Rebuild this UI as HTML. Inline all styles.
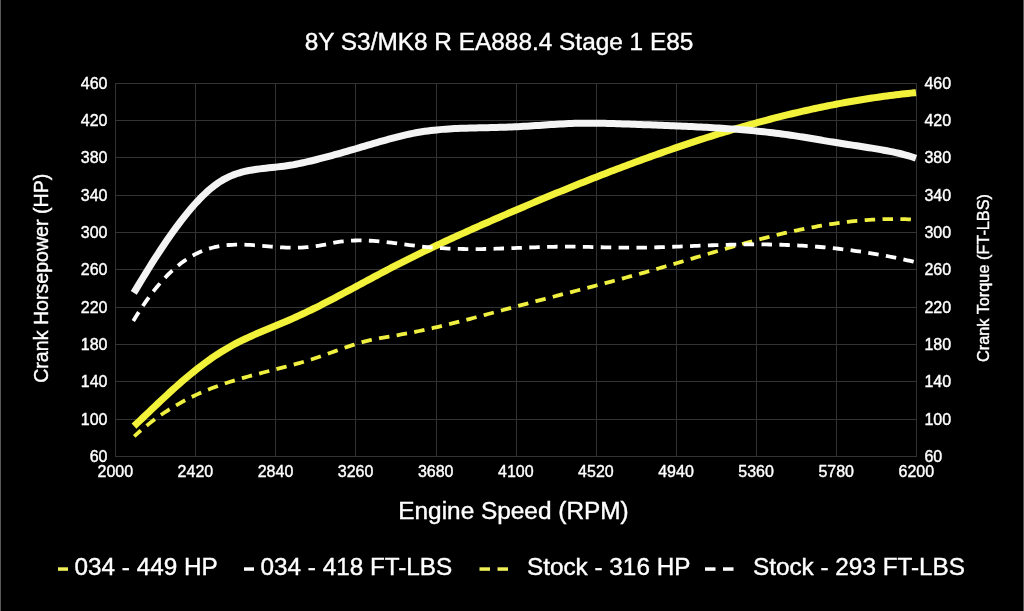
<!DOCTYPE html>
<html><head><meta charset="utf-8"><style>
html,body{margin:0;padding:0;background:#000;}
body{width:1024px;height:611px;overflow:hidden;}
svg{display:block;font-family:"Liberation Sans",sans-serif;will-change:transform;}
text{stroke:#fff;stroke-width:0.4px;}
</style></head><body>
<svg width="1024" height="611" viewBox="0 0 1024 611">
<rect width="1024" height="611" fill="#000"/>
<rect x="0" y="0" width="1" height="611" fill="#5a5a5a"/><rect x="1023" y="0" width="1" height="611" fill="#555"/>
<g stroke="#333333" stroke-width="1" shape-rendering="crispEdges"><line x1="115.50" y1="83" x2="115.50" y2="457"/><line x1="195.50" y1="83" x2="195.50" y2="457"/><line x1="275.50" y1="83" x2="275.50" y2="457"/><line x1="355.50" y1="83" x2="355.50" y2="457"/><line x1="436.50" y1="83" x2="436.50" y2="457"/><line x1="516.50" y1="83" x2="516.50" y2="457"/><line x1="596.50" y1="83" x2="596.50" y2="457"/><line x1="676.50" y1="83" x2="676.50" y2="457"/><line x1="756.50" y1="83" x2="756.50" y2="457"/><line x1="836.50" y1="83" x2="836.50" y2="457"/><line x1="916.50" y1="83" x2="916.50" y2="457"/><line x1="115" y1="83.50" x2="917" y2="83.50"/><line x1="115" y1="120.50" x2="917" y2="120.50"/><line x1="115" y1="157.50" x2="917" y2="157.50"/><line x1="115" y1="195.50" x2="917" y2="195.50"/><line x1="115" y1="232.50" x2="917" y2="232.50"/><line x1="115" y1="269.50" x2="917" y2="269.50"/><line x1="115" y1="307.50" x2="917" y2="307.50"/><line x1="115" y1="344.50" x2="917" y2="344.50"/><line x1="115" y1="381.50" x2="917" y2="381.50"/><line x1="115" y1="419.50" x2="917" y2="419.50"/><line x1="115" y1="456.50" x2="917" y2="456.50"/></g>
<text x="499" y="49.5" fill="#fff" font-size="24.4" text-anchor="middle">8Y S3/MK8 R EA888.4 Stage 1 E85</text>
<g fill="#fff" font-size="16"><text x="107.5" y="88.6" text-anchor="end">460</text><text x="924.4" y="88.6">460</text><text x="107.5" y="126.0" text-anchor="end">420</text><text x="924.4" y="126.0">420</text><text x="107.5" y="163.3" text-anchor="end">380</text><text x="924.4" y="163.3">380</text><text x="107.5" y="200.7" text-anchor="end">340</text><text x="924.4" y="200.7">340</text><text x="107.5" y="238.0" text-anchor="end">300</text><text x="924.4" y="238.0">300</text><text x="107.5" y="275.4" text-anchor="end">260</text><text x="924.4" y="275.4">260</text><text x="107.5" y="312.7" text-anchor="end">220</text><text x="924.4" y="312.7">220</text><text x="107.5" y="350.1" text-anchor="end">180</text><text x="924.4" y="350.1">180</text><text x="107.5" y="387.4" text-anchor="end">140</text><text x="924.4" y="387.4">140</text><text x="107.5" y="424.8" text-anchor="end">100</text><text x="924.4" y="424.8">100</text><text x="107.5" y="462.1" text-anchor="end">60</text><text x="924.4" y="462.1">60</text><text x="115.3" y="477.3" text-anchor="middle">2000</text><text x="195.4" y="477.3" text-anchor="middle">2420</text><text x="275.5" y="477.3" text-anchor="middle">2840</text><text x="355.6" y="477.3" text-anchor="middle">3260</text><text x="435.7" y="477.3" text-anchor="middle">3680</text><text x="515.8" y="477.3" text-anchor="middle">4100</text><text x="595.9" y="477.3" text-anchor="middle">4520</text><text x="676.0" y="477.3" text-anchor="middle">4940</text><text x="756.1" y="477.3" text-anchor="middle">5360</text><text x="836.2" y="477.3" text-anchor="middle">5780</text><text x="916.3" y="477.3" text-anchor="middle">6200</text></g>
<text x="513.5" y="518.5" fill="#fff" font-size="24.4" text-anchor="middle">Engine Speed (RPM)</text>
<text transform="translate(47.7 278.3) rotate(-90)" fill="#fff" font-size="19.6" text-anchor="middle">Crank Horsepower (HP)</text>
<text transform="translate(989.3 278) rotate(-90)" fill="#fff" font-size="16.3" text-anchor="middle">Crank Torque (FT-LBS)</text>
<g fill="none" stroke-linejoin="round">
<path d="M134.00 426.10 L137.00 423.29 L140.00 420.46 L143.00 417.62 L146.00 414.77 L149.00 411.92 L152.00 409.07 L155.00 406.22 L158.00 403.38 L161.00 400.55 L164.00 397.74 L167.00 394.95 L170.00 392.18 L173.00 389.45 L176.00 386.75 L179.00 384.09 L182.00 381.47 L185.00 378.90 L188.00 376.37 L191.00 373.89 L194.00 371.46 L197.00 369.08 L200.00 366.75 L203.00 364.47 L206.00 362.25 L209.00 360.09 L212.00 357.98 L215.00 355.94 L218.00 353.96 L221.00 352.04 L224.00 350.19 L227.00 348.40 L230.00 346.68 L233.00 345.03 L236.00 343.43 L239.00 341.89 L242.00 340.41 L245.00 338.97 L248.00 337.57 L251.00 336.20 L254.00 334.87 L257.00 333.57 L260.00 332.29 L263.00 331.03 L266.00 329.78 L269.00 328.54 L272.00 327.30 L275.00 326.07 L278.00 324.83 L281.00 323.58 L284.00 322.32 L287.00 321.04 L290.00 319.74 L293.00 318.41 L296.00 317.06 L299.00 315.69 L302.00 314.29 L305.00 312.87 L308.00 311.43 L311.00 309.98 L314.00 308.50 L317.00 307.01 L320.00 305.51 L323.00 303.99 L326.00 302.46 L329.00 300.91 L332.00 299.35 L335.00 297.78 L338.00 296.21 L341.00 294.62 L344.00 293.03 L347.00 291.43 L350.00 289.83 L353.00 288.22 L356.00 286.61 L359.00 285.00 L362.00 283.38 L365.00 281.77 L368.00 280.16 L371.00 278.55 L374.00 276.94 L377.00 275.34 L380.00 273.75 L383.00 272.16 L386.00 270.57 L389.00 269.00 L392.00 267.43 L395.00 265.88 L398.00 264.34 L401.00 262.81 L404.00 261.29 L407.00 259.78 L410.00 258.28 L413.00 256.79 L416.00 255.31 L419.00 253.84 L422.00 252.39 L425.00 250.94 L428.00 249.49 L431.00 248.06 L434.00 246.64 L437.00 245.22 L440.00 243.82 L443.00 242.42 L446.00 241.02 L449.00 239.64 L452.00 238.26 L455.00 236.89 L458.00 235.53 L461.00 234.17 L464.00 232.82 L467.00 231.47 L470.00 230.13 L473.00 228.79 L476.00 227.46 L479.00 226.13 L482.00 224.81 L485.00 223.49 L488.00 222.18 L491.00 220.87 L494.00 219.56 L497.00 218.26 L500.00 216.96 L503.00 215.66 L506.00 214.37 L509.00 213.08 L512.00 211.79 L515.00 210.50 L518.00 209.22 L521.00 207.94 L524.00 206.66 L527.00 205.39 L530.00 204.12 L533.00 202.85 L536.00 201.59 L539.00 200.33 L542.00 199.08 L545.00 197.83 L548.00 196.58 L551.00 195.33 L554.00 194.09 L557.00 192.86 L560.00 191.62 L563.00 190.39 L566.00 189.17 L569.00 187.95 L572.00 186.74 L575.00 185.52 L578.00 184.32 L581.00 183.11 L584.00 181.92 L587.00 180.72 L590.00 179.53 L593.00 178.35 L596.00 177.17 L599.00 176.00 L602.00 174.83 L605.00 173.66 L608.00 172.50 L611.00 171.35 L614.00 170.20 L617.00 169.06 L620.00 167.92 L623.00 166.79 L626.00 165.66 L629.00 164.54 L632.00 163.42 L635.00 162.31 L638.00 161.20 L641.00 160.11 L644.00 159.01 L647.00 157.92 L650.00 156.84 L653.00 155.77 L656.00 154.70 L659.00 153.64 L662.00 152.58 L665.00 151.53 L668.00 150.48 L671.00 149.45 L674.00 148.42 L677.00 147.39 L680.00 146.37 L683.00 145.36 L686.00 144.36 L689.00 143.36 L692.00 142.37 L695.00 141.39 L698.00 140.41 L701.00 139.44 L704.00 138.48 L707.00 137.52 L710.00 136.57 L713.00 135.63 L716.00 134.70 L719.00 133.77 L722.00 132.86 L725.00 131.95 L728.00 131.04 L731.00 130.15 L734.00 129.26 L737.00 128.38 L740.00 127.51 L743.00 126.65 L746.00 125.79 L749.00 124.95 L752.00 124.11 L755.00 123.28 L758.00 122.45 L761.00 121.64 L764.00 120.84 L767.00 120.04 L770.00 119.25 L773.00 118.47 L776.00 117.70 L779.00 116.94 L782.00 116.19 L785.00 115.44 L788.00 114.71 L791.00 113.98 L794.00 113.26 L797.00 112.56 L800.00 111.86 L803.00 111.17 L806.00 110.49 L809.00 109.82 L812.00 109.16 L815.00 108.51 L818.00 107.87 L821.00 107.24 L824.00 106.61 L827.00 106.00 L830.00 105.40 L833.00 104.81 L836.00 104.23 L839.00 103.65 L842.00 103.09 L845.00 102.54 L848.00 102.00 L851.00 101.47 L854.00 100.95 L857.00 100.44 L860.00 99.94 L863.00 99.45 L866.00 98.97 L869.00 98.51 L872.00 98.05 L875.00 97.61 L878.00 97.17 L881.00 96.75 L884.00 96.34 L887.00 95.94 L890.00 95.55 L893.00 95.17 L896.00 94.80 L899.00 94.44 L902.00 94.10 L905.00 93.77 L908.00 93.45 L911.00 93.14 L914.00 92.84 L916.00 92.65" stroke="#f2f23a" stroke-width="7"/>
<path d="M133.80 292.92 L136.80 287.90 L139.80 282.91 L142.80 277.96 L145.80 273.07 L148.80 268.23 L151.80 263.45 L154.80 258.73 L157.80 254.08 L160.80 249.50 L163.80 245.01 L166.80 240.59 L169.80 236.26 L172.80 232.03 L175.80 227.89 L178.80 223.85 L181.80 219.91 L184.80 216.08 L187.80 212.37 L190.80 208.78 L193.80 205.32 L196.80 201.99 L199.80 198.81 L202.80 195.78 L205.80 192.90 L208.80 190.19 L211.80 187.66 L214.80 185.30 L217.80 183.13 L220.80 181.16 L223.80 179.38 L226.80 177.79 L229.80 176.37 L232.80 175.11 L235.80 173.99 L238.80 173.01 L241.80 172.16 L244.80 171.41 L247.80 170.75 L250.80 170.18 L253.80 169.68 L256.80 169.24 L259.80 168.85 L262.80 168.49 L265.80 168.15 L268.80 167.83 L271.80 167.52 L274.80 167.21 L277.80 166.88 L280.80 166.54 L283.80 166.17 L286.80 165.77 L289.80 165.33 L292.80 164.83 L295.80 164.28 L298.80 163.68 L301.80 163.04 L304.80 162.37 L307.80 161.68 L310.80 160.97 L313.80 160.24 L316.80 159.49 L319.80 158.73 L322.80 157.95 L325.80 157.16 L328.80 156.36 L331.80 155.55 L334.80 154.73 L337.80 153.89 L340.80 153.05 L343.80 152.20 L346.80 151.34 L349.80 150.48 L352.80 149.61 L355.80 148.74 L358.80 147.86 L361.80 146.98 L364.80 146.10 L367.80 145.22 L370.80 144.34 L373.80 143.46 L376.80 142.58 L379.80 141.71 L382.80 140.85 L385.80 140.01 L388.80 139.17 L391.80 138.36 L394.80 137.56 L397.80 136.79 L400.80 136.04 L403.80 135.33 L406.80 134.64 L409.80 133.99 L412.80 133.37 L415.80 132.80 L418.80 132.26 L421.80 131.77 L424.80 131.33 L427.80 130.92 L430.80 130.54 L433.80 130.20 L436.80 129.90 L439.80 129.62 L442.80 129.38 L445.80 129.15 L448.80 128.96 L451.80 128.78 L454.80 128.62 L457.80 128.49 L460.80 128.36 L463.80 128.25 L466.80 128.16 L469.80 128.07 L472.80 127.98 L475.80 127.91 L478.80 127.84 L481.80 127.77 L484.80 127.70 L487.80 127.64 L490.80 127.57 L493.80 127.50 L496.80 127.42 L499.80 127.34 L502.80 127.26 L505.80 127.16 L508.80 127.06 L511.80 126.94 L514.80 126.81 L517.80 126.66 L520.80 126.51 L523.80 126.34 L526.80 126.16 L529.80 125.98 L532.80 125.79 L535.80 125.59 L538.80 125.39 L541.80 125.19 L544.80 124.99 L547.80 124.79 L550.80 124.60 L553.80 124.41 L556.80 124.23 L559.80 124.05 L562.80 123.89 L565.80 123.74 L568.80 123.60 L571.80 123.48 L574.80 123.37 L577.80 123.29 L580.80 123.22 L583.80 123.17 L586.80 123.15 L589.80 123.14 L592.80 123.15 L595.80 123.18 L598.80 123.22 L601.80 123.27 L604.80 123.34 L607.80 123.41 L610.80 123.50 L613.80 123.59 L616.80 123.69 L619.80 123.79 L622.80 123.89 L625.80 124.00 L628.80 124.11 L631.80 124.22 L634.80 124.32 L637.80 124.43 L640.80 124.54 L643.80 124.64 L646.80 124.75 L649.80 124.86 L652.80 124.97 L655.80 125.08 L658.80 125.19 L661.80 125.30 L664.80 125.42 L667.80 125.54 L670.80 125.66 L673.80 125.78 L676.80 125.91 L679.80 126.03 L682.80 126.17 L685.80 126.30 L688.80 126.44 L691.80 126.58 L694.80 126.73 L697.80 126.88 L700.80 127.03 L703.80 127.19 L706.80 127.36 L709.80 127.53 L712.80 127.70 L715.80 127.88 L718.80 128.07 L721.80 128.26 L724.80 128.46 L727.80 128.66 L730.80 128.87 L733.80 129.09 L736.80 129.32 L739.80 129.55 L742.80 129.80 L745.80 130.05 L748.80 130.31 L751.80 130.58 L754.80 130.87 L757.80 131.16 L760.80 131.46 L763.80 131.78 L766.80 132.11 L769.80 132.45 L772.80 132.80 L775.80 133.17 L778.80 133.54 L781.80 133.94 L784.80 134.35 L787.80 134.77 L790.80 135.20 L793.80 135.66 L796.80 136.12 L799.80 136.59 L802.80 137.07 L805.80 137.56 L808.80 138.06 L811.80 138.56 L814.80 139.06 L817.80 139.57 L820.80 140.07 L823.80 140.58 L826.80 141.08 L829.80 141.58 L832.80 142.07 L835.80 142.55 L838.80 143.03 L841.80 143.50 L844.80 143.96 L847.80 144.42 L850.80 144.88 L853.80 145.34 L856.80 145.80 L859.80 146.26 L862.80 146.73 L865.80 147.19 L868.80 147.67 L871.80 148.15 L874.80 148.65 L877.80 149.15 L880.80 149.66 L883.80 150.19 L886.80 150.75 L889.80 151.32 L892.80 151.93 L895.80 152.58 L898.80 153.26 L901.80 153.99 L904.80 154.78 L907.80 155.62 L910.80 156.52 L913.80 157.49 L916.00 158.24" stroke="#f4f4f4" stroke-width="7"/>
<path d="M134.20 436.37 L137.20 433.66 L140.20 431.04 L143.20 428.49 L146.20 426.03 L149.20 423.63 L152.20 421.32 L155.20 419.07 L158.20 416.90 L161.20 414.80 L164.20 412.76 L167.20 410.79 L170.20 408.88 L173.20 407.04 L176.20 405.26 L179.20 403.54 L182.20 401.87 L185.20 400.26 L188.20 398.71 L191.20 397.21 L194.20 395.76 L197.20 394.36 L200.20 393.01 L203.20 391.70 L206.20 390.44 L209.20 389.22 L212.20 388.05 L215.20 386.91 L218.20 385.81 L221.20 384.75 L224.20 383.72 L227.20 382.73 L230.20 381.76 L233.20 380.82 L236.20 379.91 L239.20 379.02 L242.20 378.15 L245.20 377.31 L248.20 376.48 L251.20 375.66 L254.20 374.86 L257.20 374.08 L260.20 373.30 L263.20 372.52 L266.20 371.76 L269.20 370.99 L272.20 370.23 L275.20 369.47 L278.20 368.70 L281.20 367.93 L284.20 367.15 L287.20 366.36 L290.20 365.56 L293.20 364.75 L296.20 363.92 L299.20 363.08 L302.20 362.21 L305.20 361.32 L308.20 360.41 L311.20 359.48 L314.20 358.51 L317.20 357.52 L320.20 356.50 L323.20 355.45 L326.20 354.39 L329.20 353.31 L332.20 352.23 L335.20 351.14 L338.20 350.05 L341.20 348.98 L344.20 347.92 L347.20 346.88 L350.20 345.86 L353.20 344.87 L356.20 343.92 L359.20 343.01 L362.20 342.14 L365.20 341.33 L368.20 340.57 L371.20 339.87 L374.20 339.23 L377.20 338.63 L380.20 338.06 L383.20 337.53 L386.20 337.01 L389.20 336.51 L392.20 336.02 L395.20 335.52 L398.20 335.01 L401.20 334.49 L404.20 333.95 L407.20 333.39 L410.20 332.82 L413.20 332.23 L416.20 331.63 L419.20 331.01 L422.20 330.38 L425.20 329.73 L428.20 329.07 L431.20 328.40 L434.20 327.72 L437.20 327.03 L440.20 326.32 L443.20 325.61 L446.20 324.88 L449.20 324.15 L452.20 323.41 L455.20 322.66 L458.20 321.90 L461.20 321.14 L464.20 320.37 L467.20 319.59 L470.20 318.81 L473.20 318.02 L476.20 317.22 L479.20 316.43 L482.20 315.63 L485.20 314.82 L488.20 314.02 L491.20 313.21 L494.20 312.40 L497.20 311.59 L500.20 310.78 L503.20 309.97 L506.20 309.16 L509.20 308.35 L512.20 307.54 L515.20 306.74 L518.20 305.94 L521.20 305.14 L524.20 304.34 L527.20 303.54 L530.20 302.75 L533.20 301.96 L536.20 301.17 L539.20 300.39 L542.20 299.60 L545.20 298.82 L548.20 298.03 L551.20 297.25 L554.20 296.47 L557.20 295.69 L560.20 294.91 L563.20 294.13 L566.20 293.35 L569.20 292.57 L572.20 291.79 L575.20 291.01 L578.20 290.23 L581.20 289.45 L584.20 288.67 L587.20 287.89 L590.20 287.10 L593.20 286.32 L596.20 285.53 L599.20 284.74 L602.20 283.95 L605.20 283.15 L608.20 282.36 L611.20 281.56 L614.20 280.76 L617.20 279.95 L620.20 279.14 L623.20 278.33 L626.20 277.52 L629.20 276.70 L632.20 275.88 L635.20 275.06 L638.20 274.23 L641.20 273.39 L644.20 272.56 L647.20 271.71 L650.20 270.87 L653.20 270.01 L656.20 269.16 L659.20 268.29 L662.20 267.43 L665.20 266.55 L668.20 265.68 L671.20 264.80 L674.20 263.92 L677.20 263.03 L680.20 262.14 L683.20 261.25 L686.20 260.36 L689.20 259.47 L692.20 258.57 L695.20 257.68 L698.20 256.79 L701.20 255.90 L704.20 255.00 L707.20 254.12 L710.20 253.23 L713.20 252.34 L716.20 251.46 L719.20 250.58 L722.20 249.71 L725.20 248.84 L728.20 247.97 L731.20 247.11 L734.20 246.25 L737.20 245.40 L740.20 244.56 L743.20 243.72 L746.20 242.90 L749.20 242.07 L752.20 241.26 L755.20 240.46 L758.20 239.66 L761.20 238.87 L764.20 238.10 L767.20 237.33 L770.20 236.58 L773.20 235.83 L776.20 235.10 L779.20 234.38 L782.20 233.67 L785.20 232.97 L788.20 232.29 L791.20 231.62 L794.20 230.96 L797.20 230.32 L800.20 229.69 L803.20 229.07 L806.20 228.47 L809.20 227.89 L812.20 227.32 L815.20 226.76 L818.20 226.23 L821.20 225.71 L824.20 225.20 L827.20 224.71 L830.20 224.24 L833.20 223.79 L836.20 223.36 L839.20 222.94 L842.20 222.55 L845.20 222.17 L848.20 221.81 L851.20 221.47 L854.20 221.16 L857.20 220.86 L860.20 220.58 L863.20 220.33 L866.20 220.10 L869.20 219.89 L872.20 219.70 L875.20 219.53 L878.20 219.39 L881.20 219.27 L884.20 219.17 L887.20 219.10 L890.20 219.05 L893.20 219.03 L896.20 219.03 L899.20 219.06 L902.20 219.11 L905.20 219.19 L908.20 219.30 L911.20 219.43 L914.20 219.59 L916.00 219.70" stroke="#f0f040" stroke-width="3.8" stroke-dasharray="10.5 7.37" stroke-dashoffset="1.5"/>
<path d="M133.30 321.07 L136.30 316.10 L139.30 311.32 L142.30 306.72 L145.30 302.31 L148.30 298.08 L151.30 294.03 L154.30 290.16 L157.30 286.47 L160.30 282.95 L163.30 279.61 L166.30 276.43 L169.30 273.43 L172.30 270.59 L175.30 267.92 L178.30 265.41 L181.30 263.06 L184.30 260.88 L187.30 258.85 L190.30 256.98 L193.30 255.26 L196.30 253.69 L199.30 252.28 L202.30 251.01 L205.30 249.87 L208.30 248.87 L211.30 247.99 L214.30 247.23 L217.30 246.58 L220.30 246.04 L223.30 245.60 L226.30 245.24 L229.30 244.98 L232.30 244.79 L235.30 244.68 L238.30 244.63 L241.30 244.64 L244.30 244.71 L247.30 244.82 L250.30 244.97 L253.30 245.16 L256.30 245.37 L259.30 245.61 L262.30 245.85 L265.30 246.11 L268.30 246.37 L271.30 246.62 L274.30 246.86 L277.30 247.09 L280.30 247.29 L283.30 247.46 L286.30 247.59 L289.30 247.67 L292.30 247.72 L295.30 247.71 L298.30 247.66 L301.30 247.55 L304.30 247.39 L307.30 247.17 L310.30 246.89 L313.30 246.55 L316.30 246.15 L319.30 245.68 L322.30 245.13 L325.30 244.54 L328.30 243.91 L331.30 243.29 L334.30 242.69 L337.30 242.15 L340.30 241.70 L343.30 241.31 L346.30 241.01 L349.30 240.77 L352.30 240.59 L355.30 240.48 L358.30 240.43 L361.30 240.43 L364.30 240.49 L367.30 240.59 L370.30 240.74 L373.30 240.93 L376.30 241.15 L379.30 241.42 L382.30 241.71 L385.30 242.02 L388.30 242.36 L391.30 242.72 L394.30 243.09 L397.30 243.47 L400.30 243.86 L403.30 244.26 L406.30 244.65 L409.30 245.04 L412.30 245.42 L415.30 245.79 L418.30 246.14 L421.30 246.48 L424.30 246.79 L427.30 247.08 L430.30 247.35 L433.30 247.60 L436.30 247.83 L439.30 248.04 L442.30 248.22 L445.30 248.39 L448.30 248.54 L451.30 248.67 L454.30 248.78 L457.30 248.88 L460.30 248.95 L463.30 249.01 L466.30 249.06 L469.30 249.08 L472.30 249.09 L475.30 249.09 L478.30 249.07 L481.30 249.04 L484.30 248.99 L487.30 248.94 L490.30 248.87 L493.30 248.79 L496.30 248.71 L499.30 248.62 L502.30 248.52 L505.30 248.42 L508.30 248.31 L511.30 248.20 L514.30 248.08 L517.30 247.96 L520.30 247.85 L523.30 247.73 L526.30 247.62 L529.30 247.50 L532.30 247.39 L535.30 247.29 L538.30 247.18 L541.30 247.09 L544.30 247.00 L547.30 246.92 L550.30 246.85 L553.30 246.79 L556.30 246.74 L559.30 246.70 L562.30 246.67 L565.30 246.66 L568.30 246.66 L571.30 246.68 L574.30 246.71 L577.30 246.74 L580.30 246.79 L583.30 246.85 L586.30 246.91 L589.30 246.97 L592.30 247.04 L595.30 247.12 L598.30 247.19 L601.30 247.26 L604.30 247.34 L607.30 247.40 L610.30 247.47 L613.30 247.53 L616.30 247.58 L619.30 247.62 L622.30 247.66 L625.30 247.68 L628.30 247.69 L631.30 247.69 L634.30 247.68 L637.30 247.66 L640.30 247.63 L643.30 247.59 L646.30 247.54 L649.30 247.48 L652.30 247.41 L655.30 247.34 L658.30 247.26 L661.30 247.17 L664.30 247.08 L667.30 246.98 L670.30 246.88 L673.30 246.77 L676.30 246.66 L679.30 246.55 L682.30 246.43 L685.30 246.32 L688.30 246.20 L691.30 246.08 L694.30 245.96 L697.30 245.84 L700.30 245.72 L703.30 245.61 L706.30 245.49 L709.30 245.38 L712.30 245.27 L715.30 245.16 L718.30 245.06 L721.30 244.97 L724.30 244.87 L727.30 244.79 L730.30 244.71 L733.30 244.64 L736.30 244.57 L739.30 244.52 L742.30 244.47 L745.30 244.43 L748.30 244.40 L751.30 244.38 L754.30 244.37 L757.30 244.37 L760.30 244.38 L763.30 244.40 L766.30 244.44 L769.30 244.48 L772.30 244.54 L775.30 244.60 L778.30 244.68 L781.30 244.77 L784.30 244.87 L787.30 244.98 L790.30 245.10 L793.30 245.24 L796.30 245.39 L799.30 245.54 L802.30 245.72 L805.30 245.90 L808.30 246.09 L811.30 246.30 L814.30 246.52 L817.30 246.76 L820.30 247.00 L823.30 247.26 L826.30 247.54 L829.30 247.82 L832.30 248.12 L835.30 248.43 L838.30 248.76 L841.30 249.10 L844.30 249.45 L847.30 249.82 L850.30 250.20 L853.30 250.60 L856.30 251.01 L859.30 251.43 L862.30 251.87 L865.30 252.33 L868.30 252.80 L871.30 253.28 L874.30 253.78 L877.30 254.29 L880.30 254.82 L883.30 255.36 L886.30 255.92 L889.30 256.50 L892.30 257.09 L895.30 257.69 L898.30 258.32 L901.30 258.95 L904.30 259.61 L907.30 260.28 L910.30 260.97 L913.30 261.67 L916.00 262.32" stroke="#ffffff" stroke-width="3.8" stroke-dasharray="10.5 7.37"/>
</g>
<g font-size="24.3" fill="#fff">
<rect x="58" y="567.3" width="10" height="3.5" fill="#f0f058"/>
<text x="74.5" y="575.4">034 - 449 HP</text>
<rect x="244" y="567.3" width="10" height="3.5" fill="#fff"/>
<text x="260.5" y="575.4">034 - 418 FT-LBS</text>
<rect x="479.5" y="567.3" width="10.5" height="3.5" fill="#f0f058"/>
<rect x="497.5" y="567.3" width="10.5" height="3.5" fill="#f0f058"/>
<text x="527" y="575.4">Stock - 316 HP</text>
<rect x="705" y="567.3" width="10.5" height="3.5" fill="#fff"/>
<rect x="723" y="567.3" width="10.5" height="3.5" fill="#fff"/>
<text x="753" y="575.4">Stock - 293 FT-LBS</text>
</g>
</svg>
</body></html>
